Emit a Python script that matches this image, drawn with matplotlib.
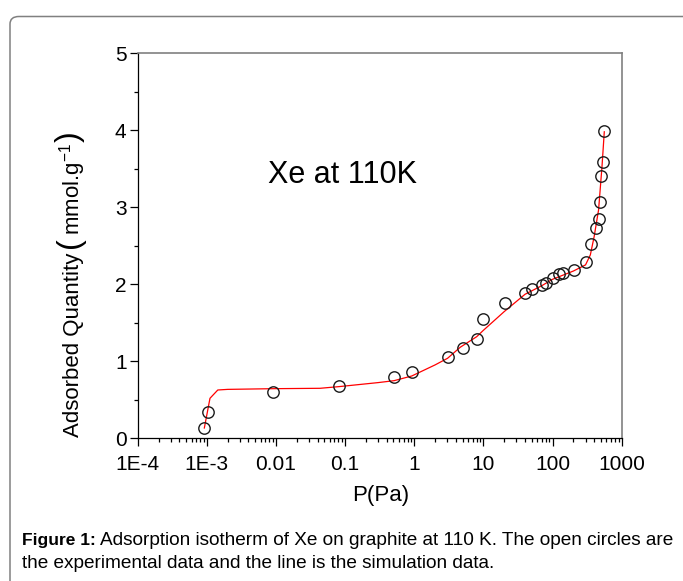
import matplotlib
matplotlib.use("Agg")
import matplotlib.pyplot as plt
from matplotlib.patches import FancyBboxPatch
from matplotlib.ticker import LogLocator, NullFormatter, MultipleLocator

plt.rcParams['font.family'] = ['Liberation Sans', 'DejaVu Sans']
plt.rcParams['mathtext.fontset'] = 'custom'
plt.rcParams['mathtext.rm'] = 'Liberation Sans'
plt.rcParams['mathtext.it'] = 'Liberation Sans:italic'

# experimental data (open circles)
P_exp = [0.00092, 0.00103, 0.0092, 0.082, 0.51, 0.92, 3.03, 4.99, 8.05, 10.0,
         20.2, 40.3, 50.8, 71, 80.2, 101, 122, 141, 201, 304, 357, 429, 463,
         490, 507, 530, 560]
q_exp = [0.13, 0.34, 0.594, 0.672, 0.797, 0.854, 1.049, 1.166, 1.291, 1.543,
         1.751, 1.881, 1.933, 1.99, 2.01, 2.077, 2.128, 2.146, 2.19, 2.284,
         2.52, 2.727, 2.84, 3.07, 3.40, 3.585, 3.996]

# simulation data (red line)
P_sim = [0.00092, 0.00111, 0.00144, 0.002, 0.0092, 0.0434, 0.082, 0.3, 0.51,
         0.92, 2.0, 3.03, 4.63, 8.0, 10, 20, 40, 70, 100, 200, 300, 352, 400,
         463, 519, 560]
q_sim = [0.13, 0.516, 0.624, 0.632, 0.641, 0.646, 0.668, 0.72, 0.745,
         0.806, 0.95, 1.036, 1.18, 1.317, 1.40, 1.643, 1.868, 1.98, 2.063,
         2.17, 2.25, 2.38, 2.62, 2.965, 3.53, 3.98]

xtick_vals = [1e-4, 1e-3, 1e-2, 1e-1, 1, 10, 100, 1000]
xtick_labels = ["1E-4", "1E-3", "0.01", "0.1", "1", "10", "100", "1000"]
ytick_vals = [0, 1, 2, 3, 4, 5]

W, H = 683, 581
fig = plt.figure(figsize=(W / 100, H / 100), dpi=100)

# rounded border frame
frame = FancyBboxPatch((10 / W, -0.1), 1.2, (1 - 16.5 / H) + 0.1,
                       boxstyle="round,pad=0,rounding_size=0.013",
                       transform=fig.transFigure, facecolor='none',
                       edgecolor='#808080', linewidth=1.1, zorder=0)
fig.patches.append(frame)

ax = fig.add_axes([137.7 / W, 143 / H, 484 / W, 384.7 / H])
ax.set_xscale('log')
ax.set_xlim(1e-4, 1000)
ax.set_ylim(0, 5)

ax.plot(P_sim, q_sim, color='#ff0000', lw=0.9, zorder=2)
ax.plot(P_exp, q_exp, linestyle='none', marker='o', markersize=8.2,
        markerfacecolor='none', markeredgecolor='#1a1a1a',
        markeredgewidth=1.0, zorder=3)

ax.set_xticks(xtick_vals)
ax.set_xticklabels(xtick_labels)
ax.xaxis.set_minor_locator(LogLocator(base=10, subs=range(2, 10), numticks=20))
ax.xaxis.set_minor_formatter(NullFormatter())
ax.set_yticks(ytick_vals)
ax.yaxis.set_minor_locator(MultipleLocator(0.5))

ax.tick_params(axis='both', which='major', direction='out', length=6,
               width=0.9, labelsize=15, color='black')
ax.tick_params(axis='both', which='minor', direction='out', length=3,
               width=0.9, color='black')
ax.tick_params(axis='x', which='major', pad=6)
ax.tick_params(axis='y', which='major', pad=2)
ax.tick_params(top=False, right=False, which='both')

for s in ['left', 'bottom']:
    ax.spines[s].set_color('black')
    ax.spines[s].set_linewidth(0.9)
for s in ['top', 'right']:
    ax.spines[s].set_color('#808080')
    ax.spines[s].set_linewidth(1.2)

def fx(px):
    return px / W

def fy(py):
    return 1 - py / H

fig.text(fx(342.5), fy(175), "Xe at 110K", fontsize=22, ha='center', va='center')
fig.text(fx(381), fy(495), "P(Pa)", fontsize=16, ha='center', va='center')

fig.canvas.draw()
renderer = fig.canvas.get_renderer()

# y label built in pieces (larger parentheses), reading bottom to top
pieces = [("Adsorbed Quantity", 16, 0.0, 73),
          ("(", 23, 5.0, 70),
          ("mmol.g$^{-1}$", 16, 1.5, 73),
          (")", 23, 1.5, 70)]
ycur = 437.0
for txt, fs, gap, xc in pieces:
    ycur -= gap
    t = fig.text(fx(xc), fy(ycur), txt, fontsize=fs, rotation=90,
                 ha='center', va='bottom', rotation_mode='default')
    bb = t.get_window_extent(renderer=renderer)
    ycur -= bb.height

# caption
t1 = fig.text(fx(22), fy(545), "Figure 1:", fontsize=12.5,
              fontweight='bold', va='baseline', ha='left')
bb = t1.get_window_extent(renderer=renderer)
fig.text((bb.x1 + 4.5) / W, fy(545),
         "Adsorption isotherm of Xe on graphite at 110 K. The open circles are",
         fontsize=13.7, va='baseline', ha='left')
fig.text(fx(22), fy(568),
         "the experimental data and the line is the simulation data.",
         fontsize=13.7, va='baseline', ha='left')

fig.savefig("out.png", dpi=100)
